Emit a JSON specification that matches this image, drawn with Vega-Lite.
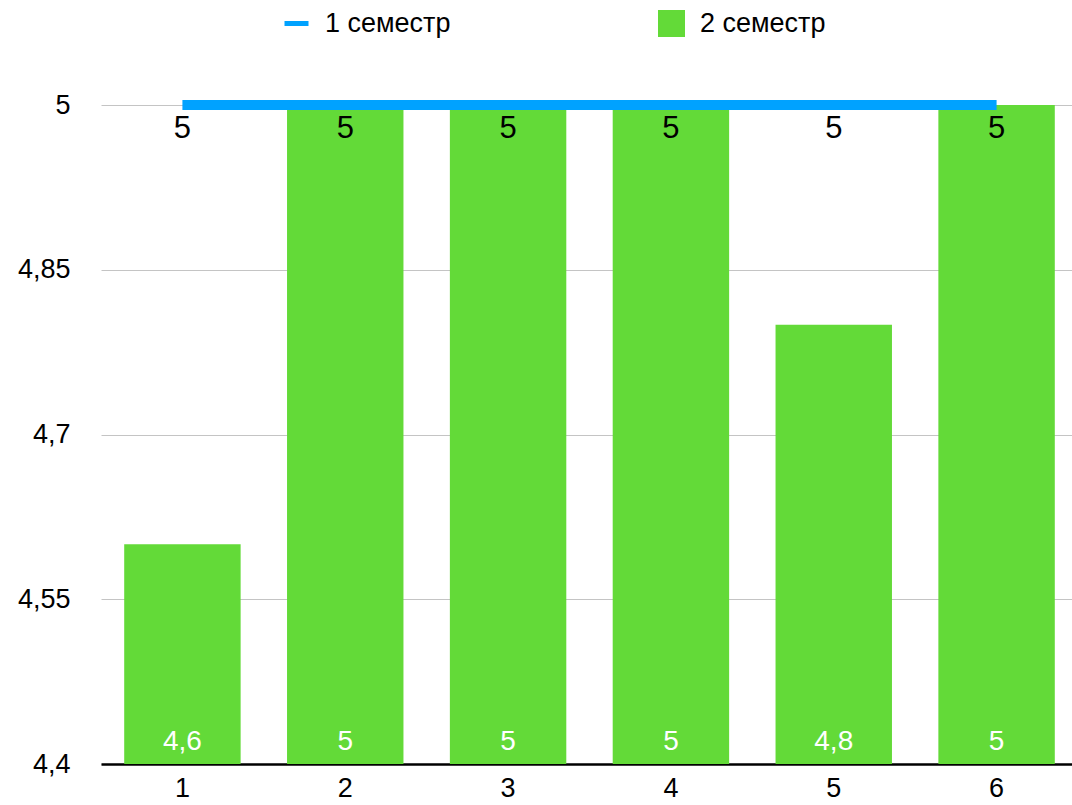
{
  "$schema": "https://vega.github.io/schema/vega-lite/v6.json",
  "width": 971,
  "height": 659,
  "autosize": {"type": "none"},
  "padding": {"left": 101, "top": 105, "right": 0, "bottom": 41},
  "background": "white",
  "config": {
    "font": "Liberation Sans",
    "view": {"stroke": null},
    "locale": {"number": {"decimal": ",", "thousands": " ", "grouping": [3], "currency": ["", ""]}}
  },
  "data": {
    "values": [
      {"k": "1", "s1": 5, "s2": 4.6},
      {"k": "2", "s1": 5, "s2": 5},
      {"k": "3", "s1": 5, "s2": 5},
      {"k": "4", "s1": 5, "s2": 5},
      {"k": "5", "s1": 5, "s2": 4.8},
      {"k": "6", "s1": 5, "s2": 5}
    ]
  },
  "encoding": {
    "x": {
      "field": "k", "type": "ordinal", "sort": null,
      "scale": {"range": [0, 977], "paddingInner": 0.285, "paddingOuter": 0.1425},
      "axis": {"title": null, "labelAngle": 0, "ticks": false, "domainColor": "#000000", "domainWidth": 2.5, "labelFontSize": 27, "labelColor": "#000000", "labelPadding": 11, "grid": false}
    }
  },
  "layer": [
    {
      "mark": {"type": "bar", "clip": true},
      "encoding": {
        "y": {
          "field": "s2", "type": "quantitative",
          "scale": {"domain": [4.4, 5], "zero": false, "nice": false},
          "axis": {"title": null, "values": [4.4, 4.55, 4.7, 4.85, 5], "format": "~g", "ticks": false, "domain": false, "labelFontSize": 27, "labelColor": "#000000", "labelPadding": 31, "gridColor": "#c4c4c4", "gridWidth": 1}
        },
        "y2": {"datum": 4.4},
        "color": {
          "datum": "2 семестр", "type": "nominal",
          "scale": {"range": ["#63da38"]},
          "legend": {"orient": "none", "legendX": 557, "legendY": -95, "title": null, "symbolType": "square", "symbolSize": 729, "symbolStrokeWidth": 0, "symbolOpacity": 1, "labelFontSize": 27, "labelColor": "#000000", "labelOffset": 15, "padding": 0}
        }
      }
    },
    {
      "mark": {"type": "line", "strokeWidth": 10, "strokeCap": "butt"},
      "encoding": {
        "y": {"field": "s1", "type": "quantitative"},
        "color": {
          "datum": "1 семестр", "type": "nominal",
          "scale": {"range": ["#00a2ff"]},
          "legend": {"orient": "none", "legendX": 181, "legendY": -96, "title": null, "symbolType": "stroke", "symbolSize": 576, "symbolStrokeWidth": 5, "labelFontSize": 27, "labelColor": "#000000", "labelOffset": 14, "padding": 0}
        }
      }
    },
    {
      "mark": {"type": "text", "fontSize": 31, "color": "#000000", "baseline": "middle", "dy": 24},
      "encoding": {
        "y": {"field": "s1", "type": "quantitative"},
        "text": {"field": "s1", "type": "quantitative", "format": "~g"}
      }
    },
    {
      "mark": {"type": "text", "fontSize": 28, "color": "#ffffff", "baseline": "middle", "dy": -22},
      "encoding": {
        "y": {"datum": 4.4, "type": "quantitative"},
        "text": {"field": "s2", "type": "quantitative", "format": "~g"}
      }
    }
  ],
  "resolve": {"scale": {"color": "independent"}}
}
